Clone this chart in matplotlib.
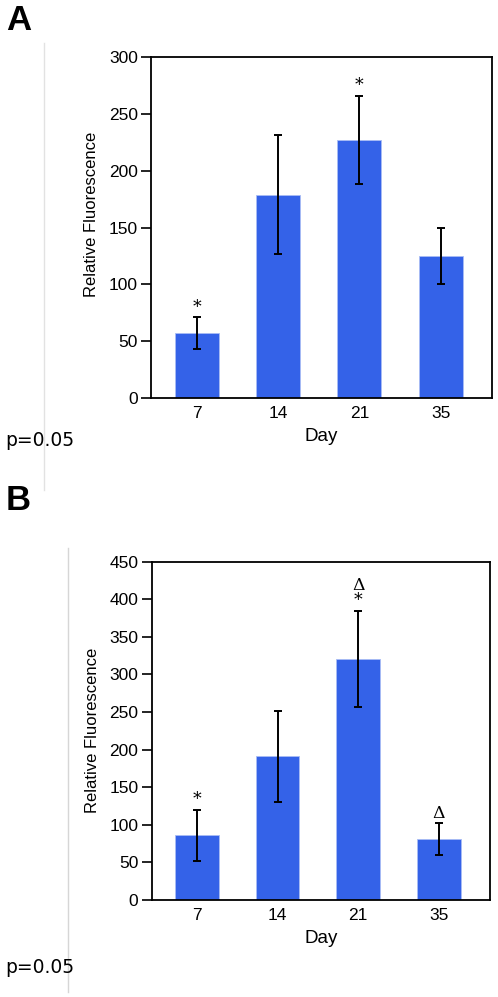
import numpy as np
import matplotlib.pyplot as plt

# data
days = ["7", "14", "21", "35"]
mean_a = [57, 179, 227, 125]
err_a = [14, 52, 39, 25]
mark_a = ["*", "", "*", ""]
mean_b = [86, 191, 321, 81]
err_b = [34, 60, 64, 21]
mark_b = ["*", "", "\u0394\n*", "\u0394"]

bar_color = "#3462e8"

fig = plt.figure(figsize=(4.98, 9.97), dpi=100)

def panel(rect, means, errs, marks, ymax, ylab_y):
    ax = fig.add_axes(rect)
    x = np.arange(len(days))
    ax.bar(x, means, width=0.54, color=bar_color, edgecolor="#a9bdf5", linewidth=0.6, zorder=2)
    ax.errorbar(x, means, yerr=errs, fmt="none", ecolor="black", elinewidth=1.4,
                capsize=3, capthick=1.4, zorder=3)
    for xi, m, e, s in zip(x, means, errs, marks):
        if s:
            ax.annotate(s, (xi, m + e), xytext=(0, 1), textcoords="offset points",
                        ha="center", va="bottom", fontsize=12.5, family="DejaVu Serif",
                        linespacing=0.85)
    ax.set_xlim(-0.56, 3.63)
    ax.set_ylim(0, ymax)
    ax.set_yticks(np.arange(0, ymax + 1, 50))
    ax.set_xticks(x)
    ax.set_xticklabels(days)
    ax.tick_params(axis="x", length=0, pad=6, labelsize=12.5)
    ax.tick_params(axis="y", length=7, width=1.2, pad=2.5, labelsize=12.5)
    for sp in ax.spines.values():
        sp.set_linewidth(1.3)
    ax.set_xlabel("Day", fontsize=13.5, labelpad=5)
    ax.set_ylabel("Relative Fluorescence", fontsize=12)
    ax.yaxis.set_label_coords(-0.152, ylab_y)
    for lab in ax.get_xticklabels() + ax.get_yticklabels():
        lab.set_family("Liberation Sans")
    ax.xaxis.label.set_family("Liberation Sans")
    ax.yaxis.label.set_family("Liberation Sans")
    return ax

ax_a = panel([0.3032, 0.6008, 0.685, 0.342], mean_a, err_a, mark_a, 300, 0.54)
ax_b = panel([0.3046, 0.0973, 0.679, 0.3393], mean_b, err_b, mark_b, 450, 0.5)

# panel letters, notes and thin grey rules
fig.text(6 / 498, 1 - 20 / 997, "A", fontsize=25, fontweight="bold", family="Liberation Sans", va="center")
fig.text(6 / 498, 1 - 500 / 997, "B", fontsize=25, fontweight="bold", family="Liberation Sans", va="center")
fig.text(5 / 498, 1 - 440 / 997, "p=0.05", fontsize=13.5, family="DejaVu Sans", va="center")
fig.text(5 / 498, 1 - 967 / 997, "p=0.05", fontsize=13.5, family="DejaVu Sans", va="center")
fig.add_artist(plt.Line2D([44 / 498, 44 / 498], [1 - 43 / 997, 1 - 490 / 997], color="#e2e2e2", lw=1))
fig.add_artist(plt.Line2D([68 / 498, 68 / 498], [1 - 548 / 997, 1 - 992 / 997], color="#d6d6d6", lw=1))

fig.savefig("out.png", dpi=100)
